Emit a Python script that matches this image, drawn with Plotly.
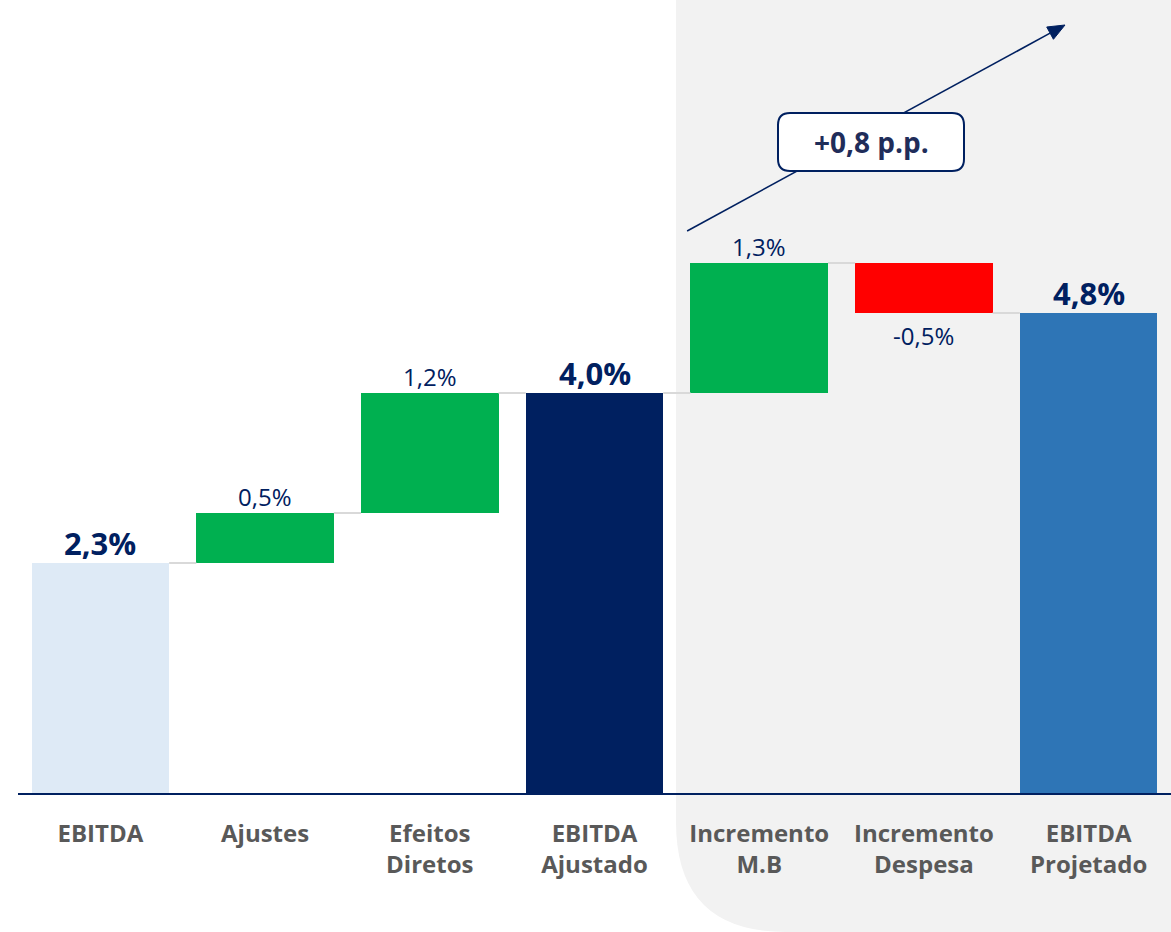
import math
import plotly.graph_objects as go

# ---- data ----
categories = ["EBITDA", "Ajustes", "Efeitos<br>Diretos", "EBITDA<br>Ajustado",
              "Incremento<br>M.B", "Incremento<br>Despesa", "EBITDA<br>Projetado"]
values = [2.3, 0.5, 1.2, 4.0, 1.3, -0.5, 4.8]
measures = ["total", "relative", "relative", "total", "relative", "relative", "total"]
delta_label = "+0,8 p.p."

# ---- styles ----
total_colors = ["#DEEAF6", "#002060", "#2E75B6"]
inc_color = "#00B050"
dec_color = "#FF0000"
navy = "#002060"
label_gray = "#595959"
panel_gray = "#F2F2F2"
font_family = "Open Sans, Noto Sans, sans-serif"

W, H = 1171, 932
ML, MR, MT, MB = 18, 0, 0, 139
PW, PH = W - ML - MR, H - MT - MB
YMAX = 7.93
BAR_W = 0.835
NCAT = len(values)

# ---- waterfall geometry computed from data ----
bases, heights, colors, ends = [], [], [], []
running = 0.0
ti = 0
for v, m in zip(values, measures):
    if m == "total":
        bases.append(0.0)
        heights.append(v)
        colors.append(total_colors[ti])
        ti += 1
        running = v
    else:
        bases.append(running)
        heights.append(v)
        colors.append(inc_color if v >= 0 else dec_color)
        running = running + v
    ends.append(running)

xs = list(range(NCAT))

def fmt(v):
    return f"{v:.1f}".replace(".", ",") + "%"

fig = go.Figure()

fig.add_trace(go.Bar(
    x=xs, y=heights, base=bases, width=BAR_W,
    marker=dict(color=colors, line=dict(width=0)),
    hoverinfo="skip", showlegend=False,
))

# connectors
for i in range(NCAT - 1):
    lvl = ends[i]
    fig.add_trace(go.Scatter(
        x=[xs[i] + BAR_W / 2, xs[i + 1] - BAR_W / 2], y=[lvl, lvl],
        mode="lines", line=dict(color="#D9D9D9", width=2),
        hoverinfo="skip", showlegend=False,
    ))

# value labels
for i, (v, m) in enumerate(zip(values, measures)):
    top = bases[i] + max(heights[i], 0)
    bot = bases[i] + min(heights[i], 0)
    if m == "total":
        fig.add_annotation(x=xs[i], y=top, text=f"<b>{fmt(v)}</b>", showarrow=False,
                           yanchor="bottom", yshift=-3,
                           font=dict(family=font_family, size=31, color=navy))
    elif v >= 0:
        fig.add_annotation(x=xs[i], y=top, text=fmt(v), showarrow=False,
                           yanchor="bottom", yshift=-2,
                           font=dict(family=font_family, size=24, color=navy))
    else:
        fig.add_annotation(x=xs[i], y=bot, text=fmt(v), showarrow=False,
                           yanchor="top", yshift=-4,
                           font=dict(family=font_family, size=24, color=navy))

# helpers for paper/pixel conversions
def px2paper(px, py):
    return (px - ML) / PW, (H - MB - py) / PH

def data2px(x, y):
    return ML + (x + 0.5) * PW / NCAT, H - MB - y / YMAX * PH

# gray panel behind last three categories (rounded bottom-left corner)
x0, yb = px2paper(676, 932)
x1, yt = px2paper(1171, 0)
r = 110
rx, ry = r / PW, r / PH
panel_path = (f"M {x0},{yt} L {x1},{yt} L {x1},{yb} L {x0+rx},{yb} "
              f"Q {x0},{yb} {x0},{yb+ry} Z")
fig.add_shape(type="path", path=panel_path, xref="paper", yref="paper",
              fillcolor=panel_gray, line=dict(width=0), layer="below")

# arrow (line + head) drawn as shapes, so the label box can cover it
mb_idx = 4
ax0_px, ay0_px = data2px(xs[mb_idx] - BAR_W / 2 - 0.02, ends[mb_idx] + 0.32)
ax1_px, ay1_px = 1065, 25
ang = math.atan2(ay1_px - ay0_px, ax1_px - ax0_px)
head_len, head_half = 17, 7
bx_px = ax1_px - head_len * math.cos(ang)
by_px = ay1_px - head_len * math.sin(ang)
px_perp, py_perp = -math.sin(ang), math.cos(ang)
p_tip = px2paper(ax1_px, ay1_px)
p_l = px2paper(bx_px + head_half * px_perp, by_px + head_half * py_perp)
p_r = px2paper(bx_px - head_half * px_perp, by_px - head_half * py_perp)
p_start = px2paper(ax0_px, ay0_px)
p_base = px2paper(bx_px, by_px)
fig.add_shape(type="line", xref="paper", yref="paper",
              x0=p_start[0], y0=p_start[1], x1=p_base[0], y1=p_base[1],
              line=dict(color=navy, width=1.6), layer="above")
fig.add_shape(type="path", xref="paper", yref="paper",
              path=f"M {p_tip[0]},{p_tip[1]} L {p_l[0]},{p_l[1]} L {p_r[0]},{p_r[1]} Z",
              fillcolor=navy, line=dict(color=navy, width=1), layer="above")

# rounded label box
bx0, by0 = px2paper(778, 171)
bx1, by1 = px2paper(964, 113)
rr = 12
rxp, ryp = rr / PW, rr / PH
box_path = (f"M {bx0+rxp},{by1} L {bx1-rxp},{by1} Q {bx1},{by1} {bx1},{by1-ryp} "
            f"L {bx1},{by0+ryp} Q {bx1},{by0} {bx1-rxp},{by0} "
            f"L {bx0+rxp},{by0} Q {bx0},{by0} {bx0},{by0+ryp} "
            f"L {bx0},{by1-ryp} Q {bx0},{by1} {bx0+rxp},{by1} Z")
fig.add_shape(type="path", path=box_path, xref="paper", yref="paper",
              fillcolor="white", line=dict(color=navy, width=2), layer="above")
fig.add_annotation(x=(bx0 + bx1) / 2, y=(by0 + by1) / 2, xref="paper", yref="paper",
                   xanchor="center", yanchor="middle",
                   text=f"<b>{delta_label}</b>", showarrow=False,
                   font=dict(family=font_family, size=28, color="#1F2D5A"))

fig.update_layout(
    width=W, height=H,
    margin=dict(l=ML, r=MR, t=MT, b=MB),
    paper_bgcolor="white", plot_bgcolor="rgba(0,0,0,0)",
    bargap=0, showlegend=False,
    xaxis=dict(range=[-0.5, NCAT - 0.5], tickvals=xs, ticktext=categories,
               showgrid=False, zeroline=False, showline=True, linecolor=navy,
               linewidth=2, ticks="", ticklabelstandoff=18,
               tickfont=dict(family=font_family, size=24, color=label_gray, weight="bold")),
    yaxis=dict(range=[0, YMAX], visible=False, showgrid=False, zeroline=False),
)

fig.write_html("out.html")
